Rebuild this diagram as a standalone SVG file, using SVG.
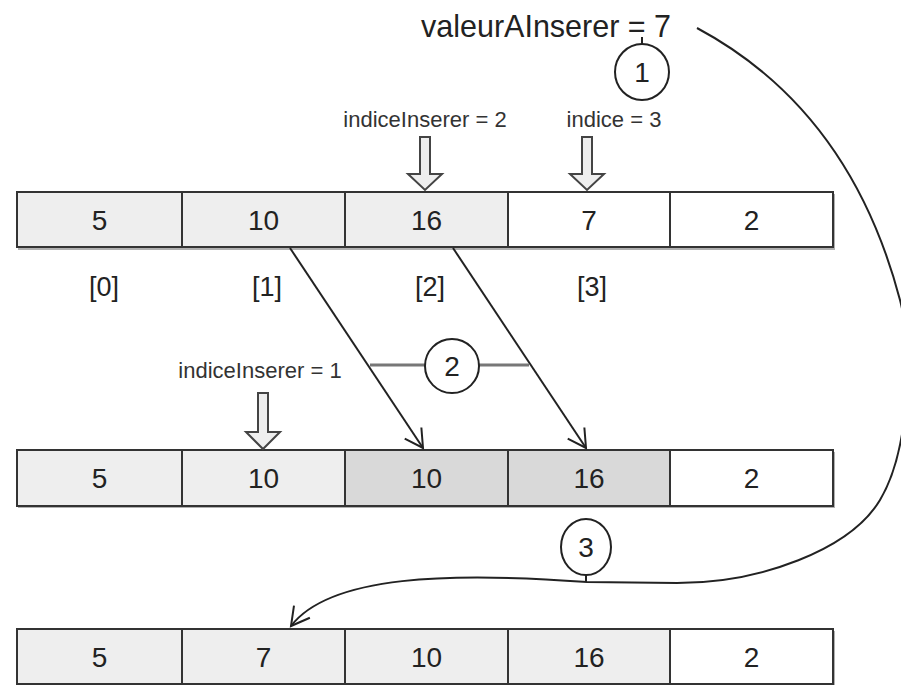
<svg xmlns="http://www.w3.org/2000/svg" width="901" height="685" viewBox="0 0 901 685">
<style>
.cell{stroke:#333;stroke-width:2}
.l{fill:#eeeeee}.d{fill:#d9d9d9}.w{fill:#ffffff}
.num{font-family:"Liberation Sans",Arial,sans-serif;font-size:28px;fill:#222;text-anchor:middle}
.lab{font-family:"Liberation Sans",Arial,sans-serif;font-size:22px;fill:#333;text-anchor:middle}
.idx{font-family:"Liberation Sans",Arial,sans-serif;font-size:27px;fill:#222;text-anchor:middle}
.big{font-family:"Liberation Sans",Arial,sans-serif;font-size:30.5px;fill:#222}
.ha{fill:#eeeeee;stroke:#444;stroke-width:2;stroke-linejoin:miter}
.circ{fill:#fff;stroke:#222;stroke-width:2}
.conn{fill:none;stroke:#222;stroke-width:2}
.shadow{fill:#b0b0b0}
</style>
<defs>
<marker id="open" viewBox="0 0 24 24" refX="21" refY="12" markerWidth="24" markerHeight="24" markerUnits="userSpaceOnUse" orient="auto">
<path d="M3,2 L21,12 L3,22" fill="none" stroke="#222" stroke-width="2"/>
</marker>
</defs>
<rect width="901" height="685" fill="#fff"/>

<g id="row1">
<rect class="shadow" x="18" y="194" width="817" height="56"/>
<rect class="cell l" x="17" y="192" width="165" height="55"/>
<rect class="cell l" x="182" y="192" width="163" height="55"/>
<rect class="cell l" x="345" y="192" width="163" height="55"/>
<rect class="cell w" x="508" y="192" width="162" height="55"/>
<rect class="cell w" x="670" y="192" width="163" height="55"/>
<text class="num" x="99.5" y="230">5</text>
<text class="num" x="263.5" y="230">10</text>
<text class="num" x="426.5" y="230">16</text>
<text class="num" x="589" y="230">7</text>
<text class="num" x="751.5" y="230">2</text>
</g>

<g id="indices">
<text class="idx" x="104" y="296">[0]</text>
<text class="idx" x="267" y="296">[1]</text>
<text class="idx" x="430" y="296">[2]</text>
<text class="idx" x="592" y="296">[3]</text>
</g>

<g id="row2">
<rect class="shadow" x="18" y="452" width="817" height="56"/>
<rect class="cell l" x="17" y="450" width="165" height="56"/>
<rect class="cell l" x="182" y="450" width="163" height="56"/>
<rect class="cell d" x="345" y="450" width="163" height="56"/>
<rect class="cell d" x="508" y="450" width="162" height="56"/>
<rect class="cell w" x="670" y="450" width="163" height="56"/>
<text class="num" x="99.5" y="488">5</text>
<text class="num" x="263.5" y="488">10</text>
<text class="num" x="426.5" y="488">10</text>
<text class="num" x="589" y="488">16</text>
<text class="num" x="751.5" y="488">2</text>
</g>

<g id="row3">
<rect class="shadow" x="18" y="631" width="817" height="56"/>
<rect class="cell l" x="17" y="629" width="165" height="55"/>
<rect class="cell l" x="182" y="629" width="163" height="55"/>
<rect class="cell l" x="345" y="629" width="163" height="55"/>
<rect class="cell l" x="508" y="629" width="162" height="55"/>
<rect class="cell w" x="670" y="629" width="163" height="55"/>
<text class="num" x="99.5" y="667">5</text>
<text class="num" x="263.5" y="667">7</text>
<text class="num" x="426.5" y="667">10</text>
<text class="num" x="589" y="667">16</text>
<text class="num" x="751.5" y="667">2</text>
</g>

<g id="pointer-indiceInserer2">
<text class="lab" x="425" y="127">indiceInserer = 2</text>
<path class="ha" d="M420,137 L430,137 L430,174 L442,174 L425,190 L408,174 L420,174 Z"/>
</g>
<g id="pointer-indice3">
<text class="lab" x="614" y="127">indice = 3</text>
<path class="ha" d="M582,137 L592,137 L592,174 L604,174 L587,190 L570,174 L582,174 Z"/>
</g>
<g id="pointer-indiceInserer1">
<text class="lab" x="260" y="378">indiceInserer = 1</text>
<path class="ha" d="M258,393 L268,393 L268,432 L280,432 L263,449 L246,432 L258,432 Z"/>
</g>

<g id="valeur">
<text class="big" x="421" y="37">valeurAInserer = 7</text>
</g>

<g id="connectors">
<path class="conn" d="M697,28 Q850,110 900,300 C913,350 910,450 880,500 C850,550 760,583 677,583 L587,582 C450,572 330,575 291,626" marker-end="url(#open)"/>
<line class="conn" x1="642" y1="37" x2="642" y2="44"/>
<line class="conn" x1="586" y1="575" x2="586" y2="582"/>
<line class="conn" x1="290" y1="248" x2="423" y2="448" marker-end="url(#open)"/>
<line class="conn" x1="453" y1="248" x2="586" y2="448" marker-end="url(#open)"/>
<line x1="370" y1="365" x2="425" y2="365" stroke="#777" stroke-width="3"/>
<line x1="479" y1="365" x2="529" y2="365" stroke="#777" stroke-width="3"/>
</g>

<g id="step1">
<ellipse class="circ" cx="642" cy="72" rx="27" ry="28"/>
<text class="num" x="642" y="82">1</text>
</g>
<g id="step2">
<ellipse class="circ" cx="452" cy="366" rx="27" ry="27"/>
<text class="num" x="452" y="376">2</text>
</g>
<g id="step3">
<ellipse class="circ" cx="586" cy="547" rx="25" ry="28"/>
<text class="num" x="586" y="557">3</text>
</g>
</svg>
